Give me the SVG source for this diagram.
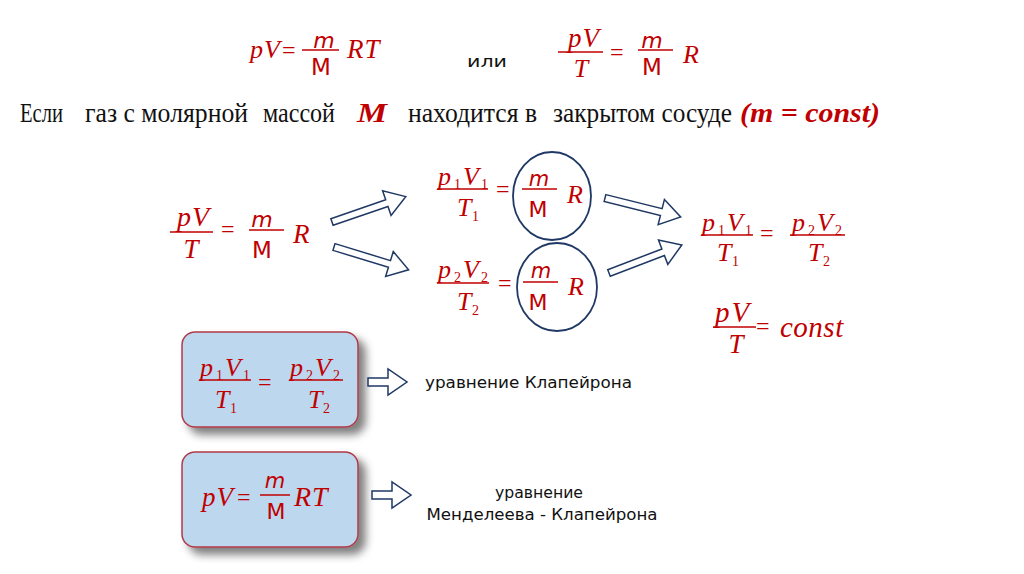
<svg xmlns="http://www.w3.org/2000/svg" width="1024" height="574" viewBox="0 0 1024 574">
<style>
.f{font-family:"Liberation Serif",serif;font-style:italic;fill:#c00000}
.s{font-family:"DejaVu Sans",sans-serif;fill:#c00000}
.si{font-family:"DejaVu Sans",sans-serif;font-style:italic;fill:#c00000}
.eq{font-family:"Liberation Serif",serif;fill:#c00000;font-size:24px}
.sub{font-family:"Liberation Serif",serif;fill:#c00000;font-size:14px}
.bar{stroke:#c00000;stroke-width:1.5}
.arr{fill:#fff;stroke:#1f3864;stroke-width:1.5;stroke-linejoin:miter}
.ring{fill:none;stroke:#1f3864;stroke-width:1.8}
.lbl{font-family:"DejaVu Sans",sans-serif;fill:#111;font-size:16px}
.rus{font-family:"Liberation Serif",serif;fill:#111;font-size:28px}
.red{font-family:"Liberation Serif",serif;font-weight:bold;font-style:italic;fill:#c00000;font-size:28px}
.box{fill:#bdd7ee;stroke:#b03a48;stroke-width:1.5}
</style>
<defs>
<filter id="sh" x="-20%" y="-20%" width="150%" height="150%">
<feGaussianBlur in="SourceAlpha" stdDeviation="4"/>
<feOffset dx="7" dy="7" result="b"/>
<feFlood flood-color="#000" flood-opacity="0.5"/>
<feComposite in2="b" operator="in"/>
<feMerge><feMergeNode/><feMergeNode in="SourceGraphic"/></feMerge>
</filter>
<path id="da" d="M0,-3.5 L58,-3.5 L58,-13 L78,0 L58,13 L58,3.5 L0,3.5 Z"/>
<path id="ha" d="M0,-4 L20,-4 L20,-13 L39,0 L20,13 L20,4 L0,4 Z"/>
</defs>
<rect width="1024" height="574" fill="#fff"/>

<g id="formula-top-left">
<text class="f" x="250" y="58" font-size="26" letter-spacing="1">pV</text>
<text class="eq" x="282" y="58" font-size="20">=</text>
<line class="bar" x1="302" y1="50" x2="339" y2="50"/>
<text class="si" x="324" y="48" font-size="22" text-anchor="middle">m</text>
<text class="s" x="321" y="75" font-size="23" text-anchor="middle">M</text>
<text class="f" x="347" y="58" font-size="27" letter-spacing="1">RT</text>
</g>

<g id="ili">
<text class="lbl" x="467" y="67" font-size="20" textLength="40" lengthAdjust="spacingAndGlyphs">или</text>
</g>

<g id="formula-top-right">
<text class="f" x="568" y="47" font-size="27" letter-spacing="1">pV</text>
<line class="bar" x1="558" y1="52" x2="603" y2="52"/>
<text class="f" x="581" y="77" font-size="26" text-anchor="middle">T</text>
<text class="eq" x="610" y="60" font-size="21">=</text>
<text class="si" x="652" y="48" font-size="22" text-anchor="middle">m</text>
<line class="bar" x1="638" y1="50" x2="673" y2="50"/>
<text class="s" x="652" y="75" font-size="23" text-anchor="middle">M</text>
<text class="f" x="683" y="63" font-size="26">R</text>
</g>

<g id="condition">
<text class="rus" x="20" y="122" textLength="43" lengthAdjust="spacingAndGlyphs">Если</text>
<text class="rus" x="85" y="122" textLength="163" lengthAdjust="spacingAndGlyphs">газ с молярной</text>
<text class="rus" x="263" y="122" textLength="72" lengthAdjust="spacingAndGlyphs">массой</text>
<text class="red" x="357" y="122" textLength="30" lengthAdjust="spacingAndGlyphs">M</text>
<text class="rus" x="408" y="122" textLength="129" lengthAdjust="spacingAndGlyphs">находится в</text>
<text class="rus" x="553" y="122" textLength="179" lengthAdjust="spacingAndGlyphs">закрытом сосуде</text>
<text class="red" x="740" y="122" textLength="140" lengthAdjust="spacingAndGlyphs">(m = const)</text>
</g>

<g id="formula-start">
<text class="f" x="177" y="226" font-size="28" letter-spacing="1">pV</text>
<line class="bar" x1="170" y1="232" x2="213" y2="232"/>
<text class="f" x="191" y="258" font-size="27" text-anchor="middle">T</text>
<text class="eq" x="221" y="237" font-size="22">=</text>
<text class="si" x="262" y="227" font-size="22" text-anchor="middle">m</text>
<line class="bar" x1="249" y1="230" x2="284" y2="230"/>
<text class="s" x="262" y="258" font-size="23" text-anchor="middle">M</text>
<text class="f" x="293" y="243" font-size="27">R</text>
</g>

<g id="state-1">
<text class="f" x="438" y="185" font-size="26">p</text>
<text class="sub" x="454" y="189">1</text>
<text class="f" x="463" y="185" font-size="26">V</text>
<text class="sub" x="481" y="189">1</text>
<line class="bar" x1="437" y1="189" x2="488" y2="189"/>
<text class="f" x="457" y="216" font-size="26">T</text>
<text class="sub" x="472" y="221">1</text>
<text class="eq" x="496" y="197">=</text>
<ellipse class="ring" cx="552" cy="196" rx="39" ry="44"/>
<text class="si" x="539" y="186" font-size="21" text-anchor="middle">m</text>
<line class="bar" x1="522" y1="189" x2="557" y2="189"/>
<text class="s" x="538" y="217" font-size="22" text-anchor="middle">M</text>
<text class="f" x="567" y="203" font-size="26">R</text>
</g>

<g id="state-2">
<text class="f" x="438" y="278" font-size="26">p</text>
<text class="sub" x="454" y="282">2</text>
<text class="f" x="463" y="278" font-size="26">V</text>
<text class="sub" x="481" y="282">2</text>
<line class="bar" x1="437" y1="283" x2="489" y2="283"/>
<text class="f" x="457" y="310" font-size="26">T</text>
<text class="sub" x="472" y="315">2</text>
<text class="eq" x="498" y="291">=</text>
<ellipse class="ring" cx="557" cy="287" rx="40" ry="44"/>
<text class="si" x="541" y="278" font-size="21" text-anchor="middle">m</text>
<line class="bar" x1="523" y1="282" x2="558" y2="282"/>
<text class="s" x="538" y="310" font-size="22" text-anchor="middle">M</text>
<text class="f" x="568" y="295" font-size="26">R</text>
</g>

<g id="result">
<text class="f" x="702" y="231" font-size="26">p</text>
<text class="sub" x="718" y="235">1</text>
<text class="f" x="727" y="231" font-size="26">V</text>
<text class="sub" x="745" y="235">1</text>
<line class="bar" x1="701" y1="235" x2="753" y2="235"/>
<text class="f" x="717" y="261" font-size="26">T</text>
<text class="sub" x="732" y="266">1</text>
<text class="eq" x="760" y="241" font-size="27">=</text>
<text class="f" x="792" y="231" font-size="26">p</text>
<text class="sub" x="808" y="235">2</text>
<text class="f" x="817" y="231" font-size="26">V</text>
<text class="sub" x="835" y="235">2</text>
<line class="bar" x1="790" y1="235" x2="845" y2="235"/>
<text class="f" x="808" y="261" font-size="26">T</text>
<text class="sub" x="823" y="266">2</text>
</g>

<g id="const">
<text class="f" x="715" y="322" font-size="29" letter-spacing="2">pV</text>
<line class="bar" x1="713" y1="327" x2="756" y2="327"/>
<text class="f" x="736" y="353" font-size="27" text-anchor="middle">T</text>
<text class="eq" x="756" y="334">=</text>
<text class="f" x="780" y="337" font-size="29" letter-spacing="0.5">const</text>
</g>

<g id="box-clapeyron">
<rect class="box" x="182" y="332" width="176" height="95" rx="13" filter="url(#sh)"/>
<text class="f" x="200" y="376" font-size="26">p</text>
<text class="sub" x="216" y="380">1</text>
<text class="f" x="225" y="376" font-size="26">V</text>
<text class="sub" x="243" y="380">1</text>
<line class="bar" x1="199" y1="380" x2="251" y2="380"/>
<text class="f" x="215" y="408" font-size="26">T</text>
<text class="sub" x="230" y="413">1</text>
<text class="eq" x="258" y="390" font-size="27">=</text>
<text class="f" x="290" y="376" font-size="26">p</text>
<text class="sub" x="306" y="380">2</text>
<text class="f" x="315" y="376" font-size="26">V</text>
<text class="sub" x="333" y="380">2</text>
<line class="bar" x1="289" y1="380" x2="343" y2="380"/>
<text class="f" x="308" y="408" font-size="26">T</text>
<text class="sub" x="323" y="413">2</text>
</g>

<g id="box-mendeleev">
<rect class="box" x="182" y="452" width="176" height="95" rx="13" filter="url(#sh)"/>
<text class="f" x="202" y="506" font-size="27" letter-spacing="1">pV</text>
<text class="eq" x="237" y="505" font-size="21">=</text>
<text class="si" x="275" y="488" font-size="21" text-anchor="middle">m</text>
<line class="bar" x1="260" y1="495" x2="290" y2="495"/>
<text class="s" x="276" y="519" font-size="22" text-anchor="middle">M</text>
<text class="f" x="294" y="506" font-size="28" letter-spacing="1">RT</text>
</g>

<g id="label-clapeyron">
<text class="lbl" x="425" y="388" textLength="207" lengthAdjust="spacingAndGlyphs">уравнение Клапейрона</text>
</g>

<g id="label-mendeleev">
<text class="lbl" x="539" y="498" text-anchor="middle" textLength="88" lengthAdjust="spacingAndGlyphs">уравнение</text>
<text class="lbl" x="542" y="520" text-anchor="middle" textLength="231" lengthAdjust="spacingAndGlyphs">Менделеева - Клапейрона</text>
</g>

<g id="connectors">
<use href="#da" class="arr" transform="translate(332,222) rotate(-19)"/>
<use href="#da" class="arr" transform="translate(334,247) rotate(17)"/>
<use href="#da" class="arr" transform="translate(605,198) rotate(14)"/>
<use href="#da" class="arr" transform="translate(609,273) rotate(-21)"/>
<use href="#ha" class="arr" transform="translate(368,382)"/>
<use href="#ha" class="arr" transform="translate(372,495)"/>
</g>
</svg>
